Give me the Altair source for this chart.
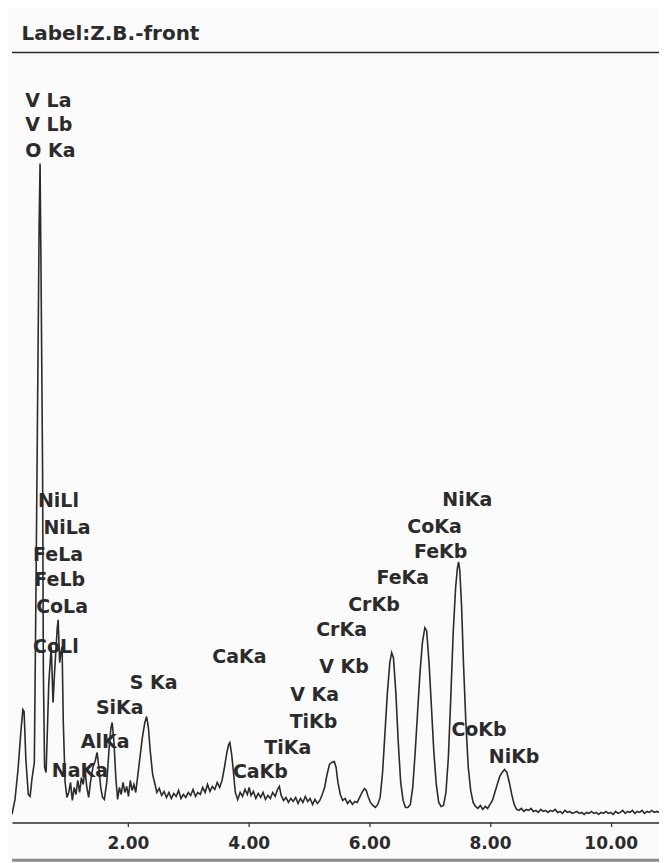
import altair as alt
import pandas as pd

# ---- spectrum (energy in keV, counts) ----
energy_kev = [
    0.08, 0.13, 0.18, 0.23, 0.26, 0.28, 0.31, 0.35, 0.38, 0.41, 0.45, 0.48, 0.50, 0.53, 0.545, 0.56,
    0.587, 0.60, 0.62, 0.645, 0.66, 0.69, 0.73, 0.76, 0.785, 0.83, 0.845, 0.87, 0.89, 0.91, 0.93,
    0.96, 0.99, 1.02, 1.05, 1.08, 1.11, 1.14, 1.17, 1.20, 1.23, 1.26, 1.29, 1.32, 1.35, 1.38, 1.42,
    1.46, 1.49, 1.52, 1.55, 1.58, 1.61, 1.65, 1.69, 1.72, 1.74, 1.77, 1.80, 1.83, 1.86, 1.89, 1.92,
    1.95, 1.98, 2.01, 2.04, 2.07, 2.10, 2.13, 2.16, 2.20, 2.24, 2.28, 2.31, 2.34, 2.37, 2.41, 2.45,
    2.48, 2.52, 2.56, 2.60, 2.64, 2.68, 2.72, 2.76, 2.80, 2.84, 2.88, 2.92, 2.96, 3.00, 3.04, 3.08,
    3.12, 3.16, 3.20, 3.24, 3.28, 3.32, 3.36, 3.40, 3.44, 3.48, 3.52, 3.56, 3.60, 3.64, 3.67, 3.69,
    3.72, 3.75, 3.78, 3.82, 3.86, 3.90, 3.94, 3.98, 4.01, 4.04, 4.08, 4.12, 4.16, 4.20, 4.24, 4.28,
    4.32, 4.36, 4.40, 4.44, 4.48, 4.51, 4.54, 4.58, 4.62, 4.66, 4.70, 4.74, 4.78, 4.82, 4.86, 4.90,
    4.94, 4.98, 5.02, 5.06, 5.10, 5.14, 5.18, 5.22, 5.26, 5.30, 5.34, 5.38, 5.42, 5.45, 5.48, 5.52,
    5.56, 5.60, 5.64, 5.68, 5.72, 5.76, 5.80, 5.84, 5.88, 5.92, 5.95, 5.98, 6.02, 6.06, 6.10, 6.14,
    6.18, 6.22, 6.26, 6.30, 6.34, 6.37, 6.40, 6.44, 6.48, 6.52, 6.56, 6.60, 6.64, 6.68, 6.72, 6.76,
    6.80, 6.84, 6.88, 6.92, 6.95, 6.99, 7.03, 7.07, 7.11, 7.15, 7.19, 7.23, 7.27, 7.31, 7.35, 7.39,
    7.43, 7.46, 7.48, 7.50, 7.53, 7.56, 7.60, 7.64, 7.68, 7.72, 7.76, 7.80, 7.84, 7.88, 7.92, 7.96,
    8.00, 8.04, 8.08, 8.12, 8.16, 8.20, 8.24, 8.28, 8.32, 8.36, 8.40, 8.44, 8.48, 8.52, 8.56, 8.60,
    8.64, 8.68, 8.72, 8.76, 8.80, 8.84, 8.88, 8.92, 8.96, 9.00, 9.04, 9.08, 9.12, 9.16, 9.20, 9.24,
    9.28, 9.32, 9.36, 9.40, 9.44, 9.48, 9.52, 9.56, 9.60, 9.64, 9.68, 9.72, 9.76, 9.80, 9.84, 9.88,
    9.92, 9.96, 10.00, 10.04, 10.08, 10.12, 10.16, 10.20, 10.24, 10.28, 10.32, 10.36, 10.40, 10.44,
    10.48, 10.52, 10.56, 10.60, 10.64, 10.68, 10.72, 10.76, 10.80,
]
counts = [
    8, 23, 53, 93, 113, 111, 63, 28, 26, 43, 60, 250, 390, 600, 660, 560,
    350, 150, 55, 50, 80, 140, 176, 120, 150, 195, 203, 160, 170, 176, 100,
    40, 25, 30, 40, 22, 35, 28, 42, 30, 45, 38, 53, 35, 25, 40, 55,
    62, 70, 55, 35, 25, 23, 40, 75, 95, 100, 80, 45, 23, 35, 28, 40,
    30, 36, 26, 42, 32, 38, 30, 45, 65, 85, 100, 106, 95, 72, 48, 38,
    30, 34, 27, 31, 25, 30, 24, 29, 26, 32, 24, 28, 25, 30, 27, 33,
    26, 30, 28, 35, 30, 38, 31, 36, 33, 40, 35, 42, 55, 70, 78, 80,
    68, 50, 30, 23, 30, 26, 33, 28, 35, 27, 31, 24, 29, 25, 30, 23,
    27, 24, 30, 26, 33, 36, 27, 22, 25, 20, 24, 21, 25, 19, 24, 20,
    26, 21, 24, 18, 23, 19, 22, 28, 35, 48, 58, 60, 61, 55, 40, 28,
    22, 24, 19, 22, 18, 21, 20, 25, 30, 34, 32, 26, 20, 17, 15, 18,
    25, 50, 90, 130, 160, 170, 165, 130, 80, 40, 22, 15, 15, 18, 35, 70,
    110, 150, 180, 195, 192, 160, 115, 70, 38, 20, 16, 17, 30, 65, 125, 190,
    235, 255, 261, 252, 215, 160, 100, 55, 32, 20, 16, 14, 17, 13, 16, 14,
    18, 22, 30, 38, 46, 50, 53, 50, 40, 28, 18, 13, 12, 14, 11, 13,
    12, 14, 11, 12, 10, 13, 11, 12, 10, 12, 11, 13, 10, 11, 9, 12,
    10, 11, 9, 10, 11, 9, 10, 8, 10, 9, 11, 9, 10, 8, 10, 9,
    11, 9, 10, 8, 11, 9, 10, 12, 9, 11, 10, 12, 9, 11,
    10, 12, 9, 11, 10, 12, 10, 11, 10,
]

# ---- peak labels ----
label_text = [
    "V La", "V Lb", "O Ka", "NiLl", "NiLa", "FeLa", "FeLb", "CoLa", "CoLl",
    "S Ka", "SiKa", "AlKa", "NaKa", "CaKa", "CaKb", "TiKa", "TiKb", "V Ka",
    "V Kb", "CrKa", "CrKb", "FeKa", "FeKb", "CoKa", "NiKa", "CoKb", "NiKb",
]
label_kev = [
    0.30, 0.30, 0.30, 0.51, 0.60, 0.43, 0.45, 0.48, 0.43,
    2.03, 1.47, 1.22, 0.74, 3.40, 3.74, 4.26, 4.68, 4.69,
    5.17, 5.12, 5.65, 6.12, 6.74, 6.63, 7.21, 7.36, 7.98,
]
label_counts = [
    723, 698, 672, 322, 295, 268, 243, 216, 176,
    140, 115, 81, 51, 166, 50, 75, 101, 128,
    156, 193, 218, 245, 271, 296, 323, 93, 65,
]

x_ticks = [2, 4, 6, 8, 10]
x_domain = [0.08, 10.8]
y_domain = [0, 771]

spec = pd.DataFrame({"keV": energy_kev, "counts": counts})
labels = pd.DataFrame({"text": label_text, "keV": label_kev, "counts": label_counts})

INK = "#2b2b2b"
FONT = "DejaVu Sans"

x_scale = alt.Scale(domain=x_domain, nice=False, zero=False)
y_scale = alt.Scale(domain=y_domain, nice=False)

line = alt.Chart(spec).mark_line(color=INK, strokeWidth=1.6, clip=True).encode(
    x=alt.X(
        "keV:Q",
        scale=x_scale,
        title=None,
        axis=alt.Axis(
            values=x_ticks,
            format=".2f",
            grid=False,
            domainColor=INK,
            domainWidth=1.5,
            tickColor=INK,
            tickSize=4,
            tickWidth=1.2,
            labelFont=FONT,
            labelFontSize=17,
            labelFontWeight="bold",
            labelColor=INK,
            labelPadding=9,
        ),
    ),
    y=alt.Y("counts:Q", scale=y_scale, axis=None),
)

text = alt.Chart(labels).mark_text(
    align="left", baseline="middle", font=FONT, fontSize=19, fontWeight="bold", color=INK
).encode(
    x=alt.X("keV:Q", scale=x_scale),
    y=alt.Y("counts:Q", scale=y_scale),
    text="text:N",
)

top_rule = alt.Chart(pd.DataFrame({"v": [0]})).mark_rule(color=INK, strokeWidth=1.5).encode(
    x=alt.value(0), x2=alt.value(655), y=alt.value(0)
)

bottom_band = alt.Chart(pd.DataFrame({"v": [0]})).mark_rule(color="#8c8c8c", strokeWidth=3).encode(
    x=alt.value(0), x2=alt.value(655), y=alt.value(809)
)

chart = (
    alt.layer(line, text, top_rule, bottom_band)
    .properties(
        width=648,
        height=771,
        autosize=alt.AutoSizeParams(type="none"),
        padding={"left": 4, "top": 44, "right": 0, "bottom": 40},
        background="#fbfbfb",
        title=alt.TitleParams(
            text="Label:Z.B.-front",
            anchor="start",
            font=FONT,
            fontSize=20,
            fontWeight="bold",
            color=INK,
            baseline="alphabetic",
            offset=-8,
            dx=11,
        ),
    )
    .configure_view(stroke=None)
)

chart.save("out.html", embed_options={"renderer": "svg", "actions": False})
